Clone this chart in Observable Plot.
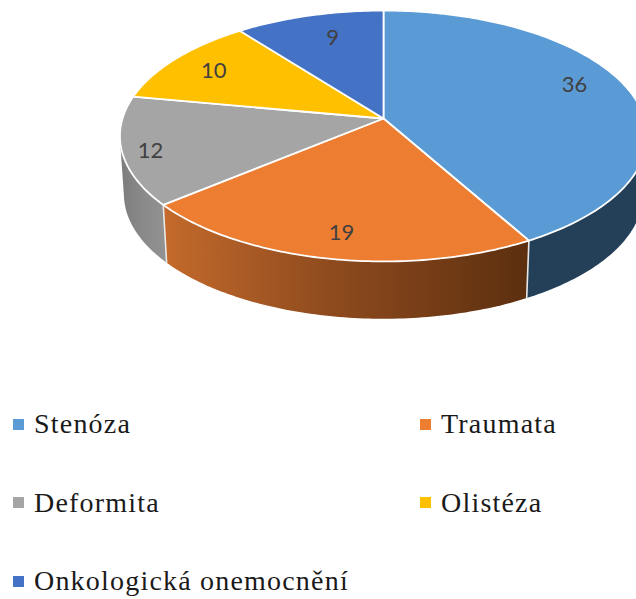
<!DOCTYPE html>
<html lang="cs">
<head>
<meta charset="utf-8">
<script src="https://cdn.jsdelivr.net/npm/d3@7"></script>
<script src="https://cdn.jsdelivr.net/npm/@observablehq/plot@0.6"></script>
<style>
  html, body { margin: 0; padding: 0; background: #fff; width: 636px; height: 599px; overflow: hidden; }
  #chart svg { display: block; overflow: hidden; }
  #legend { position: absolute; left: 0; top: 385px; width: 636px; display: grid;
            grid-template-columns: 407px 229px; grid-auto-rows: 78.5px;
            font-family: "Liberation Serif", serif; font-size: 28px; color: #1a1a1a; }
  #legend div { display: flex; align-items: center; padding-left: 13px; white-space: nowrap; letter-spacing: 1.2px; }
  #legend i { display: inline-block; width: 11px; height: 11px; margin-right: 10px; flex: none; }
</style>
</head>
<body>
<div id="chart"></div>
<div id="legend"></div>
<script>
// Data
const categories = ["Stenóza", "Traumata", "Deformita", "Olistéza", "Onkologická onemocnění"];
const values = [36, 19, 12, 10, 9];

// Styles
const topColors = ["#5b9bd5", "#ed7d31", "#a5a5a5", "#ffc000", "#4472c4"];
const sideFills = ["#243f58", "url(#sideOrange)", "url(#sideGrey)", "#997300", "#264478"];
const labelRadius = [0.813, 0.839, 0.897, 0.797, 0.747];
const labelTurn = [-6.0, -0.7, -1.6, -0.9, 2.2];

// Camera of the tilted disc (perspective factor, lower rim offset)
const persp = 0.1394;
const W = 636, H = 360;
const pxX = 261, pxY = 123, cx = 383, cy = 118;
const rimScaleX = 257 / 261, rimScaleY = 122 / 123, rimShift = 58.5 / 123;

function project(theta, r = 1, lower = false) {
  const u = r * Math.sin(theta), v = r * Math.cos(theta), w = 1 + persp * v;
  return lower
    ? {x: rimScaleX * u / w, y: rimScaleY * v / w - rimShift}
    : {x: u / w, y: v / w};
}

const total = d3.sum(values);
const cum = d3.cumsum(values);
const slices = values.map((v, i) => {
  const a0 = ((cum[i] - v) / total) * 2 * Math.PI;
  const a1 = (cum[i] / total) * 2 * Math.PI;
  return {i, v, a0, a1, mid: (a0 + a1) / 2};
});

const arc = (a0, a1, lower) => {
  const n = Math.max(2, Math.ceil((a1 - a0) * 60));
  return d3.range(n + 1).map((k) => project(a0 + ((a1 - a0) * k) / n, 1, lower));
};

const topPoly = (s) => {
  const c = {x: 0, y: 0};
  return [c, ...arc(s.a0, s.a1, false), c];
};
const sidePoly = (s) => {
  const pts = [...arc(s.a0, s.a1, false), ...arc(s.a0, s.a1, true)];
  const hull = d3.polygonHull(pts.map((p) => [p.x, p.y])).map(([x, y]) => ({x, y}));
  return [...hull, hull[0]];
};

// Back to front
const order = [4, 3, 0, 2, 1];

const labels = slices.map((s) => ({
  ...project(s.mid + (labelTurn[s.i] * Math.PI) / 180, labelRadius[s.i]),
  t: String(s.v)
}));

const plot = Plot.plot({
  width: W,
  height: H,
  margin: 0,
  x: {domain: [-cx / pxX, (W - cx) / pxX], range: [0, W], axis: null},
  y: {domain: [(cy - H) / pxY, cy / pxY], range: [H, 0], axis: null},
  style: {background: "white"},
  marks: [
    () => {
      const defs = d3.create("svg:defs");
      const grad = (id, stops) => {
        const g = defs.append("linearGradient").attr("id", id).attr("x1", 0).attr("x2", 1).attr("y1", 0).attr("y2", 0);
        stops.forEach(([o, c]) => g.append("stop").attr("offset", o).attr("stop-color", c));
      };
      grad("sideOrange", [[0, "#c46a2c"], [0.45, "#8f4b1e"], [1, "#5c2f0f"]]);
      grad("sideGrey", [[0, "#7c7c7c"], [0.5, "#8a8a8a"], [1, "#929292"]]);
      return defs.node();
    },
    // Side walls
    ...order.map((i) => Plot.line(sidePoly(slices[i]), {x: "x", y: "y", fill: sideFills[i], stroke: "none", curve: "linear"})),
    // Seams between walls
    ...slices.slice(0, 3).map((s) =>
      Plot.line([project(s.a1, 1, false), project(s.a1, 1, true)], {x: "x", y: "y", stroke: "#e8e8e8", strokeWidth: 1.6})
    ),
    // Top faces
    ...slices.map((s) =>
      Plot.line(topPoly(s), {x: "x", y: "y", fill: topColors[s.i], stroke: "white", strokeWidth: 1.8, strokeLinejoin: "round", curve: "linear"})
    ),
    Plot.text(labels, {
      x: "x", y: "y", text: "t", fill: "#404040",
      fontFamily: "Lato, Carlito, sans-serif", fontSize: 22, textAnchor: "middle", lineAnchor: "middle"
    })
  ]
});
document.getElementById("chart").append(plot);

const legend = d3.select("#legend");
categories.forEach((c, i) => {
  const row = legend.append("div");
  row.append("i").style("background", topColors[i]);
  row.append("span").text(c);
});
</script>
</body>
</html>
